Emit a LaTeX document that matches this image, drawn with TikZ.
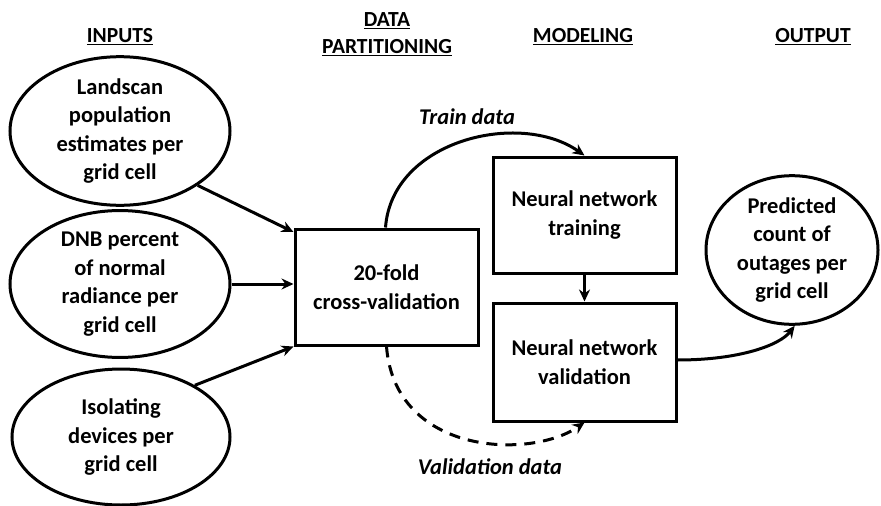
\documentclass[tikz,border=0pt]{standalone}
\usepackage{fontspec}
\setmainfont{Carlito}
\usetikzlibrary{shapes.geometric,arrows.meta}
\begin{document}
\begin{tikzpicture}[x=1pt,y=-1pt,
  every node/.style={font=\fontsize{22.5}{28.5}\selectfont\bfseries, align=center},
  oval/.style={draw, line width=3pt, ellipse, inner sep=0pt},
  stagebox/.style={draw, line width=3pt, rectangle, inner sep=0pt},
  flow/.style={line width=3pt, -{Stealth[length=12pt,width=11pt]}},
  header/.style={font=\fontsize{21.5}{27}\selectfont\bfseries},
  flowlabel/.style={font=\fontsize{22.5}{27}\selectfont\bfseries\itshape}]
\useasboundingbox (0,0) rectangle (881,506);

% column headings
\node[header] (hin)  at (120,37) {\underline{INPUTS}};
\node[header] (hdp)  at (387,34) {\underline{DATA}\\\underline{PARTITIONING}};
\node[header] (hmod) at (583,37) {\underline{MODELING}};
\node[header] (hout) at (813,37) {\underline{OUTPUT}};

% inputs
\node[oval, minimum width=220pt, minimum height=134pt] (e1) at (120,131)
  {Landscan\\population\\estimates per\\grid cell};
\node[oval, minimum width=220pt, minimum height=138pt] (e2) at (120,284)
  {DNB percent\\of normal\\radiance per\\grid cell};
\node[oval, minimum width=218pt, minimum height=136pt] (e3) at (121,437)
  {Isolating\\devices per\\grid cell};

% partitioning and modeling
\node[stagebox, minimum width=183pt, minimum height=116pt] (cv) at (386.5,287)
  {20-fold\\cross-validation};
\node[stagebox, minimum width=183pt, minimum height=116pt] (tr) at (584.5,215)
  {Neural network\\training};
\node[stagebox, minimum width=183pt, minimum height=118pt] (va) at (584.5,362)
  {Neural network\\validation};

% output
\node[oval, minimum width=172pt, minimum height=140pt] (out) at (792,250)
  {Predicted\\count of\\outages per\\grid cell};

% connectors
\draw[flow] (e1.-35) -- (cv.north west |- 0,232);
\draw[flow] (e2.east) -- (cv.west |- e2.east);
\draw[flow] (e3.35) -- (cv.south west);
\draw[flow] (cv.north west) ++(92,0) coordinate (tstart)
  (tstart) .. controls (392,140) and (520,110) .. (tr.north);
\draw[flow, dashed, dash pattern=on 11pt off 8pt] (cv.south west) ++(93,0) coordinate (vstart)
  (vstart) .. controls (395,455) and (530,460) .. (va.south);
\draw[flow] (tr.south) -- (va.north);
\draw[flow] (va.east |- 0,360) coordinate (ostart)
  (ostart) .. controls (740,360) and (780,345) .. (out.-88);

% flow labels
\node[flowlabel] (ltr) at (467,117) {Train data};
\node[flowlabel] (lva) at (490,467) {Validation data};
\end{tikzpicture}
\end{document}
